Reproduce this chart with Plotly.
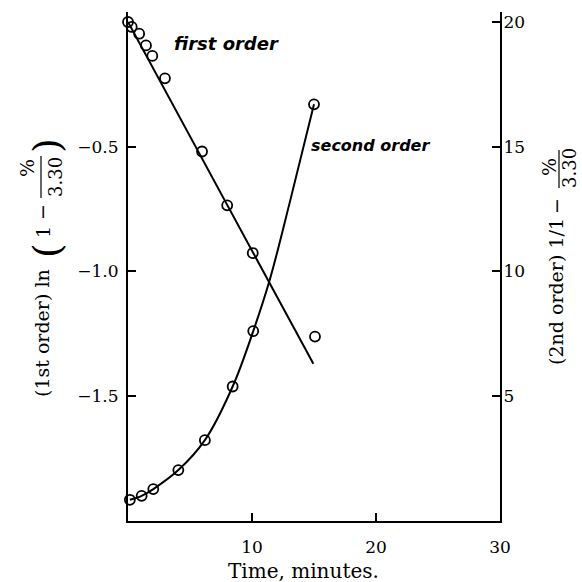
import plotly.graph_objects as go

# First-order plot: ln(1 - %/3.30) against time (left axis)
t_first = [0.0, 0.3, 0.9, 1.45, 1.96, 2.98, 5.97, 8.0, 10.06, 15.08]
y_first = [0.0, -0.02, -0.047, -0.094, -0.136, -0.226, -0.519, -0.735, -0.926, -1.261]
# straight line drawn through the first-order points
t_first_fit = [0.0, 14.95]
y_first_fit = [0.0, -1.37]

# Second-order plot: 1/(1 - %/3.30) against time (right axis)
t_second = [0.15, 1.1, 2.04, 4.06, 6.2, 8.44, 10.1, 15.0]
y_second = [0.85, 1.01, 1.28, 2.04, 3.24, 5.39, 7.61, 16.7]
# smooth curve drawn through the second-order points
t_second_curve = [0.15, 1.1, 2.04, 4.06, 6.2, 8.44, 10.1, 11.45, 13.06, 15.0]
y_second_curve = [0.85, 1.01, 1.28, 2.04, 3.24, 5.39, 7.61, 9.7, 12.8, 16.7]

x_ticks = [10, 20, 30]
x_ticktext = ["10", "20", "30"]
left_ticks = [-0.5, -1.0, -1.5]
left_ticktext = ["\u22120.5", "\u22121.0", "\u22121.5"]
right_ticks = [5, 10, 15, 20]
right_ticktext = ["5", "10", "15", "20"]

W, H = 582, 582
ML, MR, MT, MB = 128, 82, 12, 61
PW, PH = W - ML - MR, H - MT - MB


def px(x):
    return (x - ML) / PW


def py(y):
    return (H - MB - y) / PH


SERIF = "DejaVu Serif"
INK = "black"

fig = go.Figure()

fig.add_trace(go.Scatter(x=t_first_fit, y=y_first_fit, mode="lines",
                         line=dict(color=INK, width=2), yaxis="y",
                         cliponaxis=False, showlegend=False))
fig.add_trace(go.Scatter(x=t_first, y=y_first, mode="markers",
                         marker=dict(symbol="circle-open", size=10, color=INK,
                                     line=dict(width=1.8, color=INK)),
                         yaxis="y", cliponaxis=False, showlegend=False))
fig.add_trace(go.Scatter(x=t_second_curve, y=y_second_curve, mode="lines",
                         line=dict(color=INK, width=2, shape="spline", smoothing=1.0),
                         yaxis="y2", cliponaxis=False, showlegend=False))
fig.add_trace(go.Scatter(x=t_second, y=y_second, mode="markers",
                         marker=dict(symbol="circle-open", size=10, color=INK,
                                     line=dict(width=1.8, color=INK)),
                         yaxis="y2", cliponaxis=False, showlegend=False))

tickfont = dict(family=SERIF, size=17, color=INK)

fig.update_layout(
    width=W, height=H, autosize=False,
    margin=dict(l=ML, r=MR, t=MT, b=MB),
    paper_bgcolor="white", plot_bgcolor="white",
    xaxis=dict(range=[0, 30], tickvals=x_ticks, ticktext=x_ticktext,
               ticks="inside", ticklen=8, tickwidth=1.5, tickcolor=INK,
               showline=True, linecolor=INK, linewidth=2, showgrid=False,
               zeroline=False, tickfont=tickfont, ticklabelstandoff=10),
    yaxis=dict(range=[-2.0, 0.04], tickvals=left_ticks, ticktext=left_ticktext,
               ticks="inside", ticklen=8, tickwidth=1.5, tickcolor=INK,
               showline=True, linecolor=INK, linewidth=2, showgrid=False,
               zeroline=False, tickfont=tickfont, ticklabelstandoff=4),
    yaxis2=dict(range=[0, 20.4], tickvals=right_ticks, ticktext=right_ticktext,
                overlaying="y", side="right", anchor="x",
                ticks="inside", ticklen=8, tickwidth=1.5, tickcolor=INK,
                showline=True, linecolor=INK, linewidth=2, showgrid=False,
                zeroline=False, tickfont=tickfont, ticklabelstandoff=-2),
)

ann = []


def text(x, y, s, size, family=SERIF, angle=-90):
    ann.append(dict(x=px(x), y=py(y), xref="paper", yref="paper", text=s,
                    showarrow=False, textangle=angle, xanchor="center", yanchor="middle",
                    font=dict(family=family, size=size, color=INK)))


# x axis title
text(303, 571, "Time, minutes.", 20, angle=0)

# left axis title: (1st order) ln(1 - %/3.30)
text(42, 333, "(1st order) ln", 19)
text(47, 251, "(", 38)
text(43, 232, "1", 19)
text(42, 212, "\u2212", 19)
text(27, 168, "%", 19)
text(55, 177, "3.30", 18)
text(47, 146, ")", 38)

# right axis title: (2nd order) 1/1 - %/3.30
text(556, 292, "(2nd order) 1/1", 19)
text(556, 206, "\u2212", 19)
text(549, 167, "%", 19)
text(569, 168, "3.30", 18)

# curve labels
text(226, 43, "<b><i>first order</i></b>", 18, family="DejaVu Sans", angle=0)
text(370, 145, "<b><i>second order</i></b>", 16, family="DejaVu Sans", angle=0)

fig.update_layout(annotations=ann)

# fraction bars of the axis titles
shapes = [
    dict(type="line", xref="paper", yref="paper", x0=px(41), x1=px(41), y0=py(156), y1=py(198),
         line=dict(color=INK, width=1.2)),
    dict(type="line", xref="paper", yref="paper", x0=px(559), x1=px(559), y0=py(150), y1=py(188),
         line=dict(color=INK, width=1.2)),
]
fig.update_layout(shapes=shapes)

fig.write_html("out.html")
